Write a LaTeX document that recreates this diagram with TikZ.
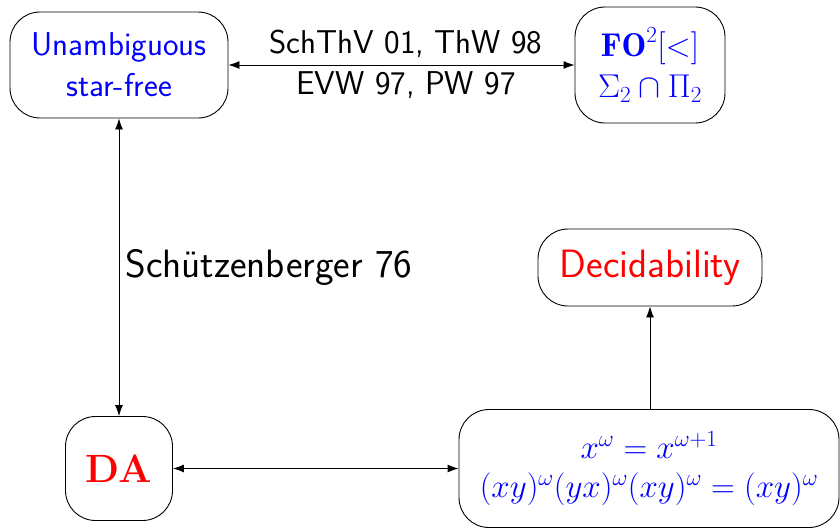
\RequirePackage{fix-cm}
\documentclass[tikz,border=0pt]{standalone}
\usepackage{fontspec}
\usetikzlibrary{arrows.meta}
\definecolor{tblue}{RGB}{0,0,255}
\definecolor{tred}{RGB}{255,0,0}
\begin{document}
\begin{tikzpicture}[x=1pt,y=-1pt,
  box/.style={draw,line width=0.9pt,rounded corners=30pt,align=center,inner sep=0pt,
    font=\sffamily\fontsize{33}{41}\selectfont},
  bigbox/.style={box,font=\sffamily\fontsize{39.5}{46}\selectfont},
  tip/.tip={Latex[length=11pt,width=8pt]},
  conn/.style={line width=0.9pt,tip-tip},
  oneway/.style={line width=0.9pt,-tip},
  lbl/.style={font=\sffamily\fontsize{33}{41}\selectfont,inner sep=0pt},
  biglbl/.style={font=\sffamily\fontsize{39.5}{46}\selectfont,inner sep=0pt}]
\useasboundingbox (0,0) rectangle (840,528);
\node[box,minimum width=218pt,minimum height=106pt,text=tblue] (ua) at (119,65) {Unambiguous\\star-free};
\node[box,minimum width=150pt,minimum height=116pt,text=tblue] (fo) at (650,65) {$\mathbf{FO}^2[<]$\\$\Sigma_2\cap\Pi_2$};
\node[bigbox,minimum width=107pt,minimum height=104pt,text=tred] (da) at (119,468.5) {\rmfamily\bfseries DA};
\node[bigbox,minimum width=224pt,minimum height=77pt,text=tred] (dec) at (650,267.5) {Decidability};
\node[box,minimum width=380pt,minimum height=118pt,text=tblue] (eq) at (649,468.5) {$x^\omega=x^{\omega+1}$\\[-2pt]$(xy)^\omega(yx)^\omega(xy)^\omega=(xy)^\omega$};
\draw[conn] (ua) -- (fo)
  node[lbl,midway,anchor=base,xshift=4.5pt,yshift=12pt] (l1) {SchThV 01, ThW 98}
  node[lbl,midway,anchor=base,xshift=4.5pt,yshift=-29pt] (l2) {EVW 97, PW 97};
\draw[conn] (ua) -- (da)
  node[biglbl,midway,right=6pt] (l3) {Schützenberger 76};
\draw[conn] (da) -- (eq);
\draw[oneway] (eq.north -| dec.south) -- (dec.south);
\end{tikzpicture}
\end{document}
